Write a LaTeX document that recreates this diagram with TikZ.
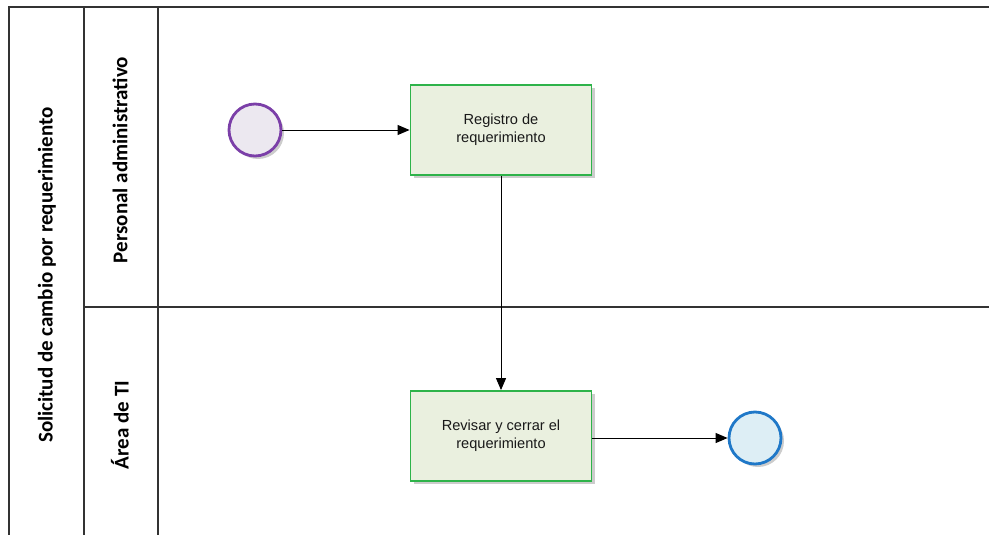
\documentclass[tikz,border=0pt]{standalone}
\usepackage{fontspec}
\setmainfont{Liberation Sans}
\newfontfamily\lanefont{Carlito}
\usetikzlibrary{arrows.meta,shadows}
\definecolor{TaskFill}{HTML}{EAF0DF}
\definecolor{StartLine}{HTML}{7B3FA8}
\definecolor{StartFill}{HTML}{ECE8F0}
\definecolor{EndLine}{HTML}{1F78C8}
\definecolor{EndFill}{HTML}{DDEEF5}
\definecolor{BoxLine}{HTML}{2EB34A}

\begin{document}
\begin{tikzpicture}[x=1pt,y=-1pt,
    lanelabel/.style={font=\lanefont\bfseries\fontsize{21}{24}\selectfont, rotate=90},
    task/.style={draw=BoxLine, line width=1.8pt, fill=TaskFill, minimum width=181pt, minimum height=90pt,
        align=center, text=black!90, font=\fontsize{14.6}{18}\selectfont, drop shadow={shadow xshift=3pt, shadow yshift=-3pt, opacity=0.4}},
    event/.style={circle, line width=2.8pt, minimum size=52pt, inner sep=0pt,
        drop shadow={shadow xshift=3pt, shadow yshift=-3pt, opacity=0.4}},
    flow/.style={-{Triangle[length=12pt,width=10pt]}, line width=1pt}]
    \useasboundingbox (0,0) rectangle (989,535);
                % pool and lanes
                \draw[line width=1.2pt,black!80] (989,7) -- (9,7) -- (9,535);
                \draw[line width=1.2pt,black!80] (84,7) -- (84,535);
                \draw[line width=1.2pt,black!80] (158,7) -- (158,535);
                \draw[line width=1.2pt,black!80] (84,307) -- (989,307);
                \node[lanelabel] (pool) at (47,275) {Solicitud de cambio por requerimiento};
                \node[lanelabel] (lanePA) at (120,160) {Personal administrativo};
                \node[lanelabel] (laneTI) at (120,425) {Área de TI};

                % events and tasks
                \node[event, draw=StartLine, fill=StartFill] (start) at (255,130) {};
                \node[task] (registro) at (501,130) {Registro de\\requerimiento};
                \node[task] (revisar) at (501,436) {Revisar y cerrar el\\requerimiento};
                \node[event, draw=EndLine, fill=EndFill] (fin) at (755,438) {};

                % flows
                \draw[flow] (start) -- (registro);
                \draw[flow] (registro) -- (revisar);
                \draw[flow] (revisar.east |- fin) -- (fin);
\end{tikzpicture}
\end{document}
